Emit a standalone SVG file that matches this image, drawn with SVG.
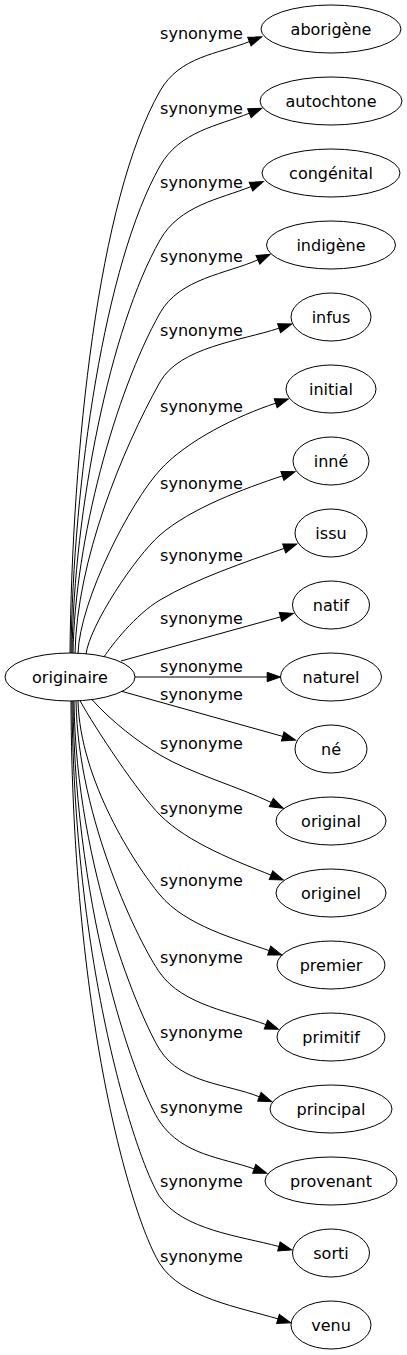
<svg xmlns="http://www.w3.org/2000/svg" width="407" height="1355" viewBox="0 0 407 1355">
<style>
  .node ellipse { fill: none; stroke: #000; stroke-width: 1; }
  text { font-family: "DejaVu Sans", "Liberation Sans", sans-serif; font-size: 16px; fill: #000; text-anchor: middle; }
  .edges path { fill: none; stroke: #000; stroke-width: 1; marker-end: url(#arr); }
</style>
<defs>
  <marker id="arr" markerUnits="userSpaceOnUse" viewBox="0 -5 14 10" refX="0" refY="0" markerWidth="14" markerHeight="10" orient="auto" overflow="visible">
    <path d="M0,-4.67 L13.3,0 L0,4.67 Z" fill="#000" stroke="#000" stroke-width="1"/>
  </marker>
</defs>
<rect width="407" height="1355" fill="#fff"/>
<g id="edges" class="edges">
  <path d="M70,653 C72,450 98,200 160,91 C179.8,56.2 218,54 249.4,41.6"/>
  <path d="M71,653 C73,480 105,263 160,166 C179.7,131.2 217.8,125.8 249.4,113.2"/>
  <path d="M72,653 C74,510 110,328 160,240 C179.8,205.2 219.4,199.2 251,186.6"/>
  <path d="M73,653 C75,540 115,393 160,313 C179.6,278.2 226.9,273.7 257.9,259.8"/>
  <path d="M75,653 C77,560 122,450 160,382 C179.5,347.1 241.1,340.7 279.1,328.2"/>
  <path d="M78,653.3 C80,600 130,503 160,470 C186.9,440.4 237.7,415.7 275.7,403.2"/>
  <path d="M86,654 C90,625 135,557 160,535 C190,508.6 244.4,488.4 282.4,475.9"/>
  <path d="M104,656.8 C112,645 135,615 160,600 C194.3,579.4 246.4,561.6 284.2,548.4"/>
  <path d="M121,661 L280.5,616.9"/>
  <path d="M135,677 L267.2,677"/>
  <path d="M122,691.4 L282.7,736.4"/>
  <path d="M92,699.6 C112,722 138.6,742.2 160,755 C190,773 239.8,787.3 271.3,802.5"/>
  <path d="M80,700.7 C95,728 138.8,793.8 160,815 C188.3,843.3 238.5,862.1 271,875.1"/>
  <path d="M78,701 C80,780 135,865 160,895 C185.6,925.7 236.1,939.1 269.2,950.6"/>
  <path d="M76,701 C78,820 140,945 160,973 C183.2,1005.6 233.2,1012.2 265.9,1024.6"/>
  <path d="M74,701 C76,870 142,1022 160,1050 C181.6,1083.6 226.9,1083.8 259.4,1096.8"/>
  <path d="M73,701 C75,920 138,1090 160,1122 C182.7,1155 221.1,1157.4 254.2,1168.9"/>
  <path d="M72,701 C74,980 140,1168 160,1197 C182.7,1230 240.2,1236.1 278.9,1246.5"/>
  <path d="M71,701 C72,1030 135,1225 160,1264 C181.6,1297.7 239.6,1307.4 278,1318.9"/>
</g>
<g id="edge-labels">
  <text x="201.5" y="38.5">synonyme</text>
  <text x="201.5" y="113.5">synonyme</text>
  <text x="201.5" y="187.5">synonyme</text>
  <text x="201.5" y="262">synonyme</text>
  <text x="201.5" y="335.5">synonyme</text>
  <text x="201.5" y="412">synonyme</text>
  <text x="201.5" y="488.5">synonyme</text>
  <text x="201.5" y="560.5">synonyme</text>
  <text x="201.5" y="623.5">synonyme</text>
  <text x="201.5" y="671.5">synonyme</text>
  <text x="201.5" y="699.5">synonyme</text>
  <text x="201.5" y="748.5">synonyme</text>
  <text x="201.5" y="813.5">synonyme</text>
  <text x="201.5" y="885.5">synonyme</text>
  <text x="201.5" y="963">synonyme</text>
  <text x="201.5" y="1038">synonyme</text>
  <text x="201.5" y="1113">synonyme</text>
  <text x="201.5" y="1187">synonyme</text>
  <text x="201.5" y="1261.5">synonyme</text>
</g>
<g id="node-originaire" class="node"><ellipse cx="70" cy="677" rx="65" ry="24"/><text x="70" y="682.5">originaire</text></g>
<g id="node-aborigene" class="node"><ellipse cx="331" cy="29" rx="70" ry="24"/><text x="331" y="34.5">aborigène</text></g>
<g id="node-autochtone" class="node"><ellipse cx="331" cy="101" rx="71" ry="24"/><text x="331" y="106.5">autochtone</text></g>
<g id="node-congenital" class="node"><ellipse cx="331" cy="173" rx="69" ry="24"/><text x="331" y="178.5">congénital</text></g>
<g id="node-indigene" class="node"><ellipse cx="331" cy="245" rx="64.5" ry="24"/><text x="331" y="250.5">indigène</text></g>
<g id="node-infus" class="node"><ellipse cx="331" cy="317" rx="40" ry="24"/><text x="331" y="322.5">infus</text></g>
<g id="node-initial" class="node"><ellipse cx="331" cy="389" rx="45" ry="24"/><text x="331" y="394.5">initial</text></g>
<g id="node-inne" class="node"><ellipse cx="331" cy="461" rx="38" ry="24"/><text x="331" y="466.5">inné</text></g>
<g id="node-issu" class="node"><ellipse cx="331" cy="533" rx="36" ry="24"/><text x="331" y="538.5">issu</text></g>
<g id="node-natif" class="node"><ellipse cx="331" cy="605" rx="38.5" ry="24"/><text x="331" y="610.5">natif</text></g>
<g id="node-naturel" class="node"><ellipse cx="331" cy="677" rx="50.5" ry="24"/><text x="331" y="682.5">naturel</text></g>
<g id="node-ne" class="node"><ellipse cx="331" cy="749" rx="36" ry="24"/><text x="331" y="754.5">né</text></g>
<g id="node-original" class="node"><ellipse cx="331" cy="821" rx="55" ry="24"/><text x="331" y="826.5">original</text></g>
<g id="node-originel" class="node"><ellipse cx="331" cy="893" rx="55" ry="24"/><text x="331" y="898.5">originel</text></g>
<g id="node-premier" class="node"><ellipse cx="331" cy="965" rx="54" ry="24"/><text x="331" y="970.5">premier</text></g>
<g id="node-primitif" class="node"><ellipse cx="331" cy="1037" rx="54" ry="24"/><text x="331" y="1042.5">primitif</text></g>
<g id="node-principal" class="node"><ellipse cx="331" cy="1109" rx="61" ry="24"/><text x="331" y="1114.5">principal</text></g>
<g id="node-provenant" class="node"><ellipse cx="331" cy="1181" rx="66" ry="24"/><text x="331" y="1186.5">provenant</text></g>
<g id="node-sorti" class="node"><ellipse cx="331" cy="1253" rx="38.5" ry="24"/><text x="331" y="1258.5">sorti</text></g>
<g id="node-venu" class="node"><ellipse cx="331" cy="1325" rx="40" ry="24"/><text x="331" y="1330.5">venu</text></g>
</svg>
